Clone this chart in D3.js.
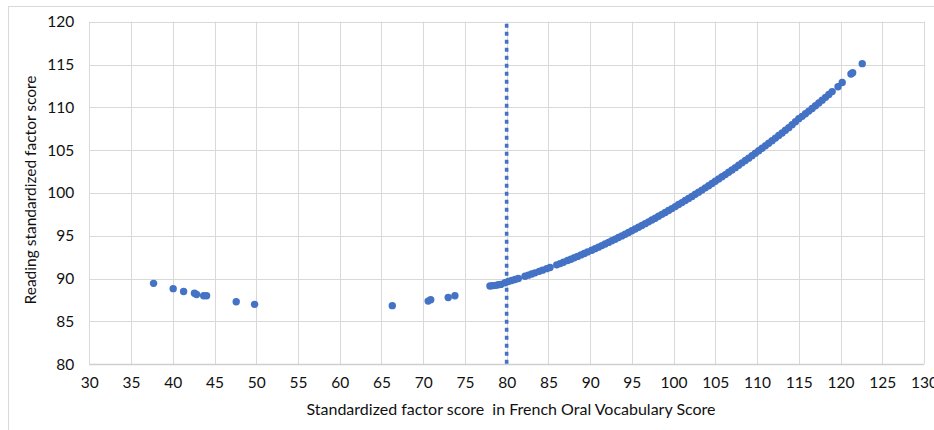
<!DOCTYPE html>
<html>
<head>
<meta charset="utf-8">
<script src="https://cdn.jsdelivr.net/npm/d3@7"></script>
<style>
  html, body { margin: 0; padding: 0; background: #ffffff; }
  svg { display: block; }
  text { font-family: Lato, "Open Sans", sans-serif; fill: #111; }
</style>
</head>
<body>
<svg id="chart" width="934" height="430"></svg>
<script>
// French oral vocabulary factor score (x) vs reading factor score (y)
const vocabScores = [
  37.7, 40.05, 41.3, 42.6, 42.85, 43.7, 44.05, 47.6, 49.8,
  66.3, 70.6, 70.9, 73.0, 73.8,
  78.0, 78.3, 78.7, 79.0, 79.3, 79.8, 80.2, 80.6, 81.0, 81.4,
  82.2, 82.6, 83.0, 83.4, 83.9, 84.3, 84.8, 85.2, 86.0, 86.4,
  86.8, 87.3, 87.7, 88.1, 88.5, 88.9, 89.3, 89.7, 90.2, 90.6,
  91.0, 91.4, 91.8, 92.2, 92.6, 93.0, 93.4, 93.8, 94.2, 94.6,
  95.0, 95.4, 95.8, 96.2, 96.6, 97.0, 97.4, 97.8, 98.2, 98.6,
  99.0, 99.4, 99.8, 100.2, 100.6, 101.0, 101.4, 101.8, 102.2, 102.6,
  103.0, 103.4, 103.8, 104.2, 104.6, 105.0, 105.4, 105.8, 106.2, 106.6,
  107.0, 107.4, 107.8, 108.2, 108.6, 109.0, 109.4, 109.8, 110.2, 110.6,
  111.0, 111.4, 111.8, 112.2, 112.6, 113.0, 113.4, 113.8, 114.2, 114.6,
  115.0, 115.4, 115.8, 116.2, 116.6, 117.0, 117.4, 117.8, 118.2, 118.6,
  119.0, 119.7, 120.2, 121.25, 121.45, 122.6
];
const readingScores = [
  89.45, 88.83, 88.5, 88.3, 88.15, 88.0, 88.0, 87.3, 87.0,
  86.85, 87.38, 87.55, 87.8, 88.0,
  89.14, 89.18, 89.22, 89.28, 89.33, 89.53, 89.66, 89.78, 89.90, 90.02,
  90.28, 90.41, 90.54, 90.68, 90.85, 90.99, 91.17, 91.31, 91.61, 91.76,
  91.92, 92.12, 92.27, 92.44, 92.60, 92.77, 92.94, 93.11, 93.32, 93.50,
  93.68, 93.86, 94.04, 94.23, 94.42, 94.60, 94.80, 94.99, 95.19, 95.39,
  95.59, 95.79, 96.00, 96.21, 96.42, 96.63, 96.85, 97.06, 97.28, 97.51,
  97.73, 97.95, 98.18, 98.41, 98.65, 98.88, 99.12, 99.36, 99.60, 99.85,
  100.10, 100.34, 100.60, 100.85, 101.11, 101.37, 101.63, 101.89, 102.15, 102.42,
  102.69, 102.96, 103.24, 103.52, 103.80, 104.07, 104.36, 104.65, 104.93, 105.22,
  105.51, 105.81, 106.11, 106.41, 106.71, 107.01, 107.32, 107.63, 107.98, 108.32,
  108.68, 108.95, 109.25, 109.56, 109.87, 110.19, 110.51, 110.84, 111.17, 111.50,
  111.84, 112.4, 112.9, 113.9, 114.05, 115.1
];
const xTicks = [30, 35, 40, 45, 50, 55, 60, 65, 70, 75, 80, 85, 90, 95, 100, 105, 110, 115, 120, 125, 130];
const yTicks = [80, 85, 90, 95, 100, 105, 110, 115, 120];
const cutoffScore = 80;
const xTitle = "Standardized factor score  in French Oral Vocabulary Score";
const yTitle = "Reading standardized factor score";

const svg = d3.select("#chart");
const plot = { left: 89.3, right: 924, top: 21.7, bottom: 364.3 };

const x = d3.scaleLinear().domain([30, 130]).range([plot.left, plot.right]);
const y = d3.scaleLinear().domain([80, 120]).range([plot.bottom, plot.top]);

// chart frame
svg.append("rect")
  .attr("x", 8.5).attr("y", 6.5)
  .attr("width", 960).attr("height", 460)
  .attr("fill", "#fff").attr("stroke", "#d9d9d9").attr("stroke-width", 1);

// gridlines
const grid = svg.append("g");
grid.selectAll("line.v").data(xTicks).join("line")
  .attr("x1", d => Math.round(x(d)) + 0.5).attr("x2", d => Math.round(x(d)) + 0.5)
  .attr("y1", y(120)).attr("y2", y(80))
  .attr("stroke", "#d9d9d9").attr("stroke-width", 1);
grid.selectAll("line.h").data(yTicks).join("line")
  .attr("x1", x(30)).attr("x2", x(130))
  .attr("y1", d => Math.round(y(d)) + 0.5).attr("y2", d => Math.round(y(d)) + 0.5)
  .attr("stroke", d => d === 80 ? "#cfcfcf" : "#d9d9d9").attr("stroke-width", d => d === 80 ? 1.5 : 1);

// axes (labels only)
const xAxis = d3.axisBottom(x).tickValues(xTicks).tickSize(0).tickPadding(0).tickFormat(d3.format("d"));
const gx = svg.append("g").attr("transform", `translate(0,${plot.bottom + 13})`).call(xAxis);
gx.select(".domain").remove();
gx.selectAll("text").attr("font-size", 15.5).attr("font-family", "Lato, sans-serif").attr("fill", "#111");

const yAxis = d3.axisLeft(y).tickValues(yTicks).tickSize(0).tickPadding(0).tickFormat(d3.format("d"));
const gy = svg.append("g").attr("transform", `translate(${plot.left - 15},0)`).call(yAxis);
gy.select(".domain").remove();
gy.selectAll("text").attr("font-size", 15.5).attr("font-family", "Lato, sans-serif").attr("fill", "#111");

// axis titles
svg.append("text")
  .attr("x", 511).attr("y", 415)
  .attr("text-anchor", "middle").attr("font-size", 16)
  .style("white-space", "pre")
  .text(xTitle);
svg.append("text")
  .attr("transform", `translate(36,${190}) rotate(-90)`)
  .attr("text-anchor", "middle").attr("font-size", 15.5)
  .text(yTitle);

// cutoff line
svg.append("line")
  .attr("x1", x(cutoffScore)).attr("x2", x(cutoffScore))
  .attr("y1", y(120) + 2).attr("y2", y(80))
  .attr("stroke", "#4472c4").attr("stroke-width", 3.6)
  .attr("stroke-dasharray", "4 4");

// points
const pts = vocabScores.map((v, i) => ({ v, r: readingScores[i] }));
svg.append("g").selectAll("circle").data(pts).join("circle")
  .attr("cx", d => x(d.v)).attr("cy", d => y(d.r))
  .attr("r", 3.7)
  .attr("fill", "#4472c4");
</script>
</body>
</html>
